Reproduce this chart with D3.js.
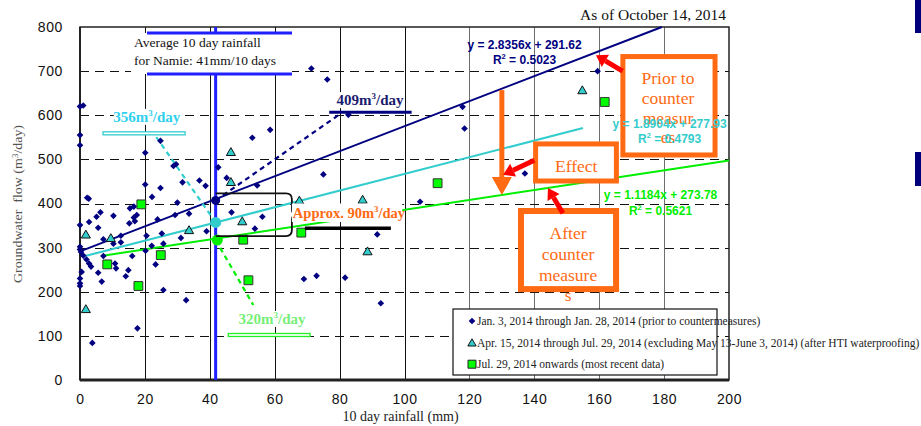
<!DOCTYPE html>
<html>
<head>
<meta charset="utf-8">
<script src="https://cdn.jsdelivr.net/npm/d3@7"></script>
<style>
  body { margin: 0; background: #fff; }
  svg { display: block; }
  .serif { font-family: "Liberation Serif", "Times New Roman", serif; }
  .sans { font-family: "Liberation Sans", Arial, sans-serif; }
</style>
</head>
<body>
<div id="chart"></div>
<script>
'use strict';

// axis ticks
const xTicks = [0, 20, 40, 60, 80, 100, 120, 140, 160, 180, 200];
const yTicks = [0, 100, 200, 300, 400, 500, 600, 700, 800];

// [10 day rainfall (mm), groundwater flow (m3/day)]
const janPoints = [
  [0, 620], [1, 622], [0, 555], [0, 532], [2.2, 413], [2.7, 411],
  [20.1, 515], [20.1, 443], [22.2, 415], [24.8, 542], [24.8, 435], [28.8, 485], [29.6, 489],
  [31.6, 448], [36.8, 452], [38.7, 440], [30, 402], [42.6, 482], [45.2, 458], [53.1, 549],
  [58.6, 567], [54.6, 441], [71.3, 706], [76.2, 681], [82.7, 601], [117.9, 619], [118.5, 570],
  [75, 466], [104.8, 404], [137.1, 468], [159.5, 700],
  [46.7, 380], [56.2, 370], [53.9, 343], [39, 337], [33.6, 377], [29.3, 374], [31.1, 322],
  [25.2, 332], [23.9, 364], [20.5, 327],
  [6.3, 380], [10.3, 372], [15.4, 389], [16.6, 393], [17.5, 374], [16.6, 368], [16.9, 360],
  [15.2, 355], [5.1, 370], [2.8, 358], [0, 351], [5.6, 345],
  [12.6, 327], [12.6, 312], [10.3, 309], [7.2, 319],
  [0, 302], [0, 296], [0.3, 290], [1, 282], [2, 273], [2.8, 264], [3.4, 257], [5.6, 243],
  [6.7, 223], [10.8, 264], [11.1, 253], [7.2, 281], [16.1, 281], [14.9, 249], [14.1, 235],
  [0.5, 245], [0, 230], [0, 219], [0, 213],
  [20.2, 293], [22.1, 304], [23.3, 262], [25.7, 309], [25.7, 204], [32.7, 181], [17.7, 117], [3.8, 84],
  [69, 229], [72.9, 236], [81.7, 232], [92.7, 174], [91.6, 330]
];
const aprPoints = [
  [1.8, 330], [9.5, 322], [33.6, 340], [50, 360], [1.8, 161], [67.6, 407],
  [46.5, 517], [46.5, 449], [88.6, 292], [87.1, 409], [154.8, 657]
];
const julPoints = [
  [18.9, 398], [8.4, 262], [24.9, 283], [18, 213], [50.3, 318], [51.9, 226],
  [68.2, 334], [110.2, 446], [161.7, 630]
];

// linear fits: prior, after HTI waterproofing, most recent
const fitSlopes = [2.8356, 1.8904, 1.1184];
const fitIntercepts = [291.62, 277.93, 273.78];
const fitR2 = ['0.5023', '0.4793', '0.5621'];
const fitRanges = [[0, 179.3], [1, 155], [7, 200]];
const fitColors = ['#000080', '#33cccc', '#00ee00'];

const avgRain = 41.8;            // average 10 day rainfall marker
const flowAtAvg = [407, 357, 317];
const flowLabels = ['409', '356', '320'];

const legendLabels = [
  'Jan. 3, 2014 through Jan. 28, 2014 (prior to countermeasures)',
  'Apr. 15, 2014 through Jul. 29, 2014 (excluding May 13-June 3, 2014) (after HTI waterproofing)',
  'Jul. 29, 2014 onwards (most recent data)'
];

const W = 921, H = 426;
const ORANGE = '#ff6a13';

const x = d3.scaleLinear().domain([0, 200]).range([80, 729]);
const y = d3.scaleLinear().domain([0, 800]).range([380, 27]);

const svg = d3.select('#chart').append('svg')
  .attr('width', W).attr('height', H);

// grid
svg.append('g').selectAll('line')
  .data(xTicks.slice(1, -1))
  .join('line')
  .attr('x1', d => Math.round(x(d)) + 0.5).attr('x2', d => Math.round(x(d)) + 0.5)
  .attr('y1', y(0)).attr('y2', y(800))
  .attr('stroke', d => d <= 100 ? '#111' : '#6e6e6e')
  .attr('stroke-width', 1);

svg.append('g').selectAll('line')
  .data(yTicks.slice(1, -1))
  .join('line')
  .attr('x1', x(0)).attr('x2', x(200))
  .attr('y1', d => Math.round(y(d)) + 0.5).attr('y2', d => Math.round(y(d)) + 0.5)
  .attr('stroke', '#111').attr('stroke-dasharray', '9,6');

// frame
svg.append('rect')
  .attr('x', x(0)).attr('y', y(800))
  .attr('width', x(200) - x(0)).attr('height', y(0) - y(800))
  .attr('fill', 'none').attr('stroke', '#222').attr('stroke-width', 1.5);
svg.append('line').attr('x1', x(0)).attr('x2', x(200)).attr('y1', y(0)).attr('y2', y(0))
  .attr('stroke', '#222').attr('stroke-width', 3);
svg.append('line').attr('x1', x(0)).attr('x2', x(0)).attr('y1', y(800)).attr('y2', y(0))
  .attr('stroke', '#222').attr('stroke-width', 2);

// axes
const axisX = svg.append('g').attr('transform', `translate(0,${y(0)})`)
  .call(d3.axisBottom(x).tickValues(xTicks).tickSize(0).tickPadding(14));
const axisY = svg.append('g').attr('transform', `translate(${x(0)},0)`)
  .call(d3.axisLeft(y).tickValues(yTicks).tickSize(0).tickPadding(17));
[axisX, axisY].forEach(a => {
  a.select('.domain').remove();
  a.selectAll('text').attr('class', 'sans').attr('font-size', 14)
    .attr('fill', '#111').attr('letter-spacing', 0.6);
});

svg.append('text').attr('class', 'serif')
  .attr('x', (x(0) + x(200)) / 2 - 4).attr('y', 421)
  .attr('text-anchor', 'middle').attr('font-size', 14).attr('fill', '#222')
  .text('10 day rainfall (mm)');

svg.append('text').attr('class', 'serif')
  .attr('transform', 'translate(22,204) rotate(-90)')
  .attr('text-anchor', 'middle').attr('font-size', 12).attr('fill', '#555')
  .attr('textLength', 158).attr('lengthAdjust', 'spacingAndGlyphs')
  .html('Groundwater&#160;&#160;flow (m<tspan dy="-4" font-size="8">3</tspan><tspan dy="4">/day)</tspan>');

svg.append('text').attr('class', 'serif')
  .attr('x', 726).attr('y', 20).attr('text-anchor', 'end')
  .attr('font-size', 15.5).attr('fill', '#111')
  .text('As of October 14, 2014');

// average rainfall line and its label box
svg.append('line')
  .attr('x1', x(avgRain)).attr('x2', x(avgRain)).attr('y1', y(800)).attr('y2', y(0))
  .attr('stroke', '#1f1fff').attr('stroke-width', 3);
svg.append('rect')
  .attr('x', 131).attr('y', 33).attr('width', 161).attr('height', 41).attr('fill', '#fff');
[33, 74].forEach(py => svg.append('line')
  .attr('x1', 147).attr('x2', 292).attr('y1', py).attr('y2', py)
  .attr('stroke', '#1f1fff').attr('stroke-width', 3));
const avgText = svg.append('text').attr('class', 'serif').attr('font-size', 13.5).attr('fill', '#111');
avgText.append('tspan').attr('x', 134).attr('y', 47).text('Average 10 day rainfall');
avgText.append('tspan').attr('x', 134).attr('y', 65).text('for Namie: 41mm/10 days');

// fit lines
fitSlopes.forEach((m, i) => {
  const [a, b] = fitRanges[i];
  svg.append('line')
    .attr('x1', x(a)).attr('y1', y(fitIntercepts[i] + m * a))
    .attr('x2', x(b)).attr('y2', y(fitIntercepts[i] + m * b))
    .attr('stroke', fitColors[i]).attr('stroke-width', 2);
});

// dashed leaders from the average-rainfall points to their labels
const leaderEnds = [[80, 602], [23.1, 555], [53.4, 170]];
leaderEnds.forEach((e, i) => {
  svg.append('line')
    .attr('x1', x(avgRain)).attr('y1', y(flowAtAvg[i]))
    .attr('x2', x(e[0])).attr('y2', y(e[1]))
    .attr('stroke', fitColors[i]).attr('stroke-width', 2.2).attr('stroke-dasharray', '5,4');
});

// label underlines + labels (data units)
const labelBars = [[76.8, 102.2, 607], [7.1, 32.4, 559], [45.7, 70.9, 102]];
const labelPos = [[89.4, 623], [20.6, 585], [59.2, 127]];
const labelColors = ['#1a1a6e', '#2fd0ee', '#77ee77'];
labelBars.forEach((b, i) => {
  if (i === 0) {
    svg.append('line').attr('x1', x(b[0])).attr('x2', x(b[1]))
      .attr('y1', y(b[2])).attr('y2', y(b[2]))
      .attr('stroke', '#000080').attr('stroke-width', 3);
  } else {
    svg.append('rect').attr('x', x(b[0])).attr('width', x(b[1]) - x(b[0]))
      .attr('y', y(b[2]) - 1.5).attr('height', 3)
      .attr('fill', '#fff').attr('stroke', i === 1 ? '#33cccc' : '#22ee22').attr('stroke-width', 1.3);
  }
  const lx = x(labelPos[i][0]), ly = y(labelPos[i][1]);
  svg.append('rect').attr('x', lx - 33).attr('y', ly - 13).attr('width', 66).attr('height', 16)
    .attr('fill', '#fff');
  svg.append('text').attr('class', 'serif')
    .attr('x', lx).attr('y', ly)
    .attr('text-anchor', 'middle').attr('font-size', 15).attr('font-weight', 'bold')
    .attr('fill', labelColors[i])
    .html(`${flowLabels[i]}m<tspan dy="-6" font-size="9">3</tspan><tspan dy="6">/day</tspan>`);
});

// points
const diamond = d3.symbol(d3.symbolSquare, 22);
const triangle = d3.symbol(d3.symbolTriangle, 36);
const square = d3.symbol(d3.symbolSquare, 78);

svg.append('g').selectAll('path').data(janPoints).join('path')
  .attr('d', diamond)
  .attr('transform', d => `translate(${x(d[0])},${y(d[1])}) rotate(45)`)
  .attr('fill', '#000080');
svg.append('g').selectAll('path').data(aprPoints).join('path')
  .attr('d', triangle)
  .attr('transform', d => `translate(${x(d[0])},${y(d[1]) + 1})`)
  .attr('fill', '#33cccc').attr('stroke', '#111').attr('stroke-width', 1);
svg.append('g').selectAll('path').data(julPoints).join('path')
  .attr('d', square)
  .attr('transform', d => `translate(${x(d[0])},${y(d[1])})`)
  .attr('fill', '#00ff00').attr('stroke', '#333').attr('stroke-width', 1);

// fitted values at the average rainfall
flowAtAvg.forEach((v, i) => {
  svg.append('circle')
    .attr('cx', x(i === 2 ? avgRain + 0.5 : avgRain)).attr('cy', y(v))
    .attr('r', i === 0 ? 4.5 : 5.5).attr('fill', fitColors[i]);
});

// brace between the prior and recent fitted values
const bTop = y(flowAtAvg[0]) - 7, bBot = y(flowAtAvg[2]) - 4;
const bL = x(avgRain), bR = x(65.3), bMid = (bTop + bBot) / 2;
const brace = d3.path();
brace.moveTo(bL, bTop);
brace.lineTo(bR - 6, bTop);
brace.quadraticCurveTo(bR, bTop, bR, bTop + 6);
brace.lineTo(bR, bMid - 5);
brace.quadraticCurveTo(bR, bMid, bR + 6, bMid);
brace.quadraticCurveTo(bR, bMid, bR, bMid + 5);
brace.lineTo(bR, bBot - 6);
brace.quadraticCurveTo(bR, bBot, bR - 6, bBot);
brace.lineTo(bL, bBot);
svg.append('path').attr('d', brace.toString())
  .attr('fill', 'none').attr('stroke', '#111').attr('stroke-width', 1.8);

svg.append('line').attr('x1', x(69.3)).attr('x2', x(95.8)).attr('y1', y(344)).attr('y2', y(344))
  .attr('stroke', '#000').attr('stroke-width', 3.5);

svg.append('rect').attr('x', x(65.3)).attr('y', y(400)).attr('width', x(99.3) - x(65.3))
  .attr('height', y(358) - y(400)).attr('fill', '#fff');
svg.append('text').attr('class', 'serif')
  .attr('x', x(65.6)).attr('y', y(367)).attr('font-size', 14.5).attr('font-weight', 'bold')
  .attr('fill', ORANGE)
  .html(`Approx. 90m<tspan dy="-6" font-size="9">3</tspan><tspan dy="6">/day</tspan>`);

// orange call-out boxes (data units: x0, x1, y0, y1)
const boxes = [[167.3, 195.7, 510, 733], [140.4, 165.3, 451, 535], [135.9, 165.2, 206, 383]];
const boxWidths = [5, 5, 6];
boxes.forEach((b, i) => {
  svg.append('rect')
    .attr('x', x(b[0])).attr('y', y(b[3]))
    .attr('width', x(b[1]) - x(b[0])).attr('height', y(b[2]) - y(b[3]))
    .attr('fill', '#fff').attr('stroke', ORANGE).attr('stroke-width', boxWidths[i]);
});
const boxText = [
  [181.2, [671, 625, 580, 537], ['Prior to', 'counter', 'measur', 'es']],
  [152.9, [472], ['Effect']],
  [150.4, [320, 272, 224, 179], ['After', 'counter', 'measure', 's']]
];
boxText.forEach(([cx, ys, lines]) => {
  lines.forEach((t, j) => svg.append('text').attr('class', 'serif')
    .attr('x', x(cx)).attr('y', y(ys[j])).attr('text-anchor', 'middle')
    .attr('font-size', 17.5).attr('fill', ORANGE).text(t));
});

// orange "drop" arrow
const dropX = x(130), dropTop = y(657), dropTip = y(419);
svg.append('line').attr('x1', dropX).attr('x2', dropX).attr('y1', dropTop).attr('y2', dropTip - 15)
  .attr('stroke', ORANGE).attr('stroke-width', 5);
svg.append('path')
  .attr('d', `M${dropX - 10},${dropTip - 18}L${dropX + 10},${dropTip - 18}L${dropX},${dropTip}Z`)
  .attr('fill', ORANGE);

// red arrows [tail, head] in data units
const redArrows = [
  [[167.2, 700], [159, 736]],
  [[140, 498], [130.4, 465]],
  [[148.8, 378], [144.2, 435]]
];
redArrows.forEach(([t, h]) => {
  const tx = x(t[0]), ty = y(t[1]), hx = x(h[0]), hy = y(h[1]);
  const ang = Math.atan2(hy - ty, hx - tx);
  const len = 11, half = 7;
  const bx = hx - len * Math.cos(ang), by = hy - len * Math.sin(ang);
  svg.append('line').attr('x1', tx).attr('y1', ty).attr('x2', bx).attr('y2', by)
    .attr('stroke', '#ff0000').attr('stroke-width', 5);
  svg.append('path')
    .attr('d', `M${hx},${hy}L${bx - half * Math.sin(ang)},${by + half * Math.cos(ang)}` +
      `L${bx + half * Math.sin(ang)},${by - half * Math.cos(ang)}Z`)
    .attr('fill', '#ff0000');
});

// fit equations
const eqPos = [[137, 750, 716], [181.7, 571, 537], [178.9, 410, 374]];
const eqColors = ['#000080', '#33cccc', '#00ee00'];
eqPos.forEach((p, i) => {
  svg.append('text').attr('class', 'sans')
    .attr('x', x(p[0])).attr('y', y(p[1])).attr('text-anchor', 'middle')
    .attr('font-size', 12).attr('font-weight', 'bold').attr('fill', eqColors[i])
    .text(`y = ${fitSlopes[i]}x + ${fitIntercepts[i]}`);
  svg.append('text').attr('class', 'sans')
    .attr('x', x(p[0])).attr('y', y(p[2])).attr('text-anchor', 'middle')
    .attr('font-size', 12).attr('font-weight', 'bold').attr('fill', eqColors[i])
    .html(`R<tspan dy="-5" font-size="7.5">2</tspan><tspan dy="5"> = ${fitR2[i]}</tspan>`);
});

// legend
const legend = svg.append('g').attr('transform', 'translate(453,309)');
legend.append('rect').attr('width', 264).attr('height', 66)
  .attr('fill', '#fff').attr('stroke', '#111').attr('stroke-width', 1.2);
const legendSymbols = [
  g => g.append('path').attr('d', diamond).attr('transform', 'rotate(45)').attr('fill', '#000080'),
  g => g.append('path').attr('d', d3.symbol(d3.symbolTriangle, 30)).attr('transform', 'translate(0,1)')
    .attr('fill', '#33cccc').attr('stroke', '#111'),
  g => g.append('path').attr('d', d3.symbol(d3.symbolSquare, 64))
    .attr('fill', '#00ff00').attr('stroke', '#222')
];
legendLabels.forEach((t, i) => {
  const row = legend.append('g').attr('transform', `translate(19,${12 + i * 21.6})`);
  legendSymbols[i](row);
  row.append('text').attr('class', 'serif').attr('x', 5).attr('y', 4)
    .attr('font-size', 11.5).attr('fill', '#222').text(t);
});

// slide edge marks
[[0, 33], [152, 34]].forEach(([py, h]) => svg.append('rect')
  .attr('x', 915).attr('y', py).attr('width', 6).attr('height', h).attr('fill', '#00007a'));
</script>
</body>
</html>
